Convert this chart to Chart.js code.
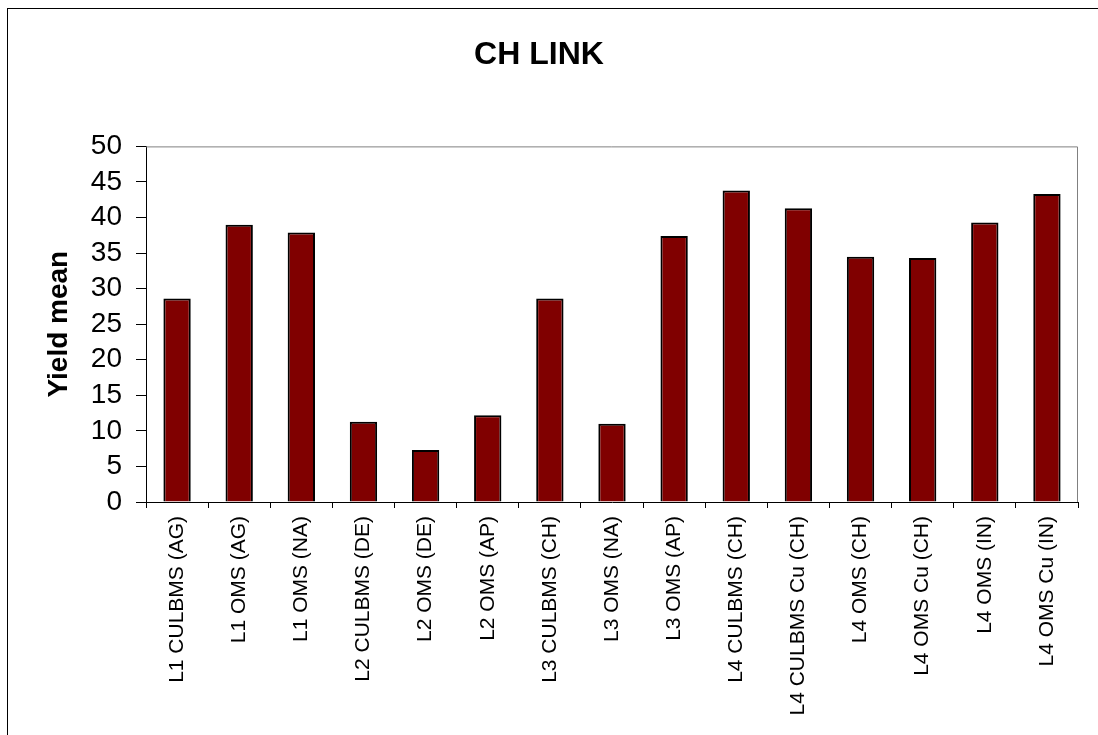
<!DOCTYPE html>
<html>
<head>
<meta charset="utf-8">
<script src="https://cdn.jsdelivr.net/npm/chart.js@4/dist/chart.umd.min.js"></script>
<style>
    body { margin: 0; background: #fff; }
    #wrap { position: relative; width: 1098px; height: 735px; overflow: hidden; }
    #frame { position: absolute; left: 7px; top: 8px; width: 1200px; height: 800px;
             border-left: 1px solid #000; border-top: 1px solid #000; }
    canvas { position: absolute; left: 0; top: 0; }
</style>
</head>
<body>
<div id="wrap">
    <div id="frame"></div>
    <canvas id="chart" width="1098" height="735"></canvas>
</div>
<script>
// data
const categories = [
    "L1 CULBMS (AG)", "L1 OMS (AG)", "L1 OMS (NA)", "L2 CULBMS (DE)", "L2 OMS (DE)",
    "L2 OMS (AP)", "L3 CULBMS (CH)", "L3 OMS (NA)", "L3 OMS (AP)", "L4 CULBMS (CH)",
    "L4 CULBMS Cu (CH)", "L4 OMS (CH)", "L4 OMS Cu (CH)", "L4 OMS (IN)", "L4 OMS Cu (IN)"
];
const yieldMean = [28.6, 39.0, 37.9, 11.3, 7.3, 12.2, 28.6, 11.0, 37.4, 43.8, 41.3, 34.5, 34.3, 39.3, 43.3];
const yTicks = [0, 5, 10, 15, 20, 25, 30, 35, 40, 45, 50];

const FONT = "Arial, 'Liberation Sans', sans-serif";

// gray top/right edge of the plot area
const plotFrame = {
    id: "plotFrame",
    beforeDatasetsDraw(chart) {
        const { ctx, chartArea: a } = chart;
        ctx.save();
        ctx.strokeStyle = "#808080";
        ctx.lineWidth = 1;
        ctx.beginPath();
        ctx.moveTo(a.left, a.top + 0.5);
        ctx.lineTo(a.right - 0.5, a.top + 0.5);
        ctx.lineTo(a.right - 0.5, a.bottom);
        ctx.stroke();
        ctx.restore();
    }
};

new Chart(document.getElementById("chart"), {
    type: "bar",
    data: {
        labels: categories,
        datasets: [{
            label: "Yield mean",
            data: yieldMean,
            backgroundColor: "#800000",
            borderColor: "#000",
            borderWidth: 2,
            barPercentage: 0.44,
            categoryPercentage: 1
        }]
    },
    options: {
        responsive: false,
        animation: false,
        layout: { padding: { left: 0, right: 20, top: 0, bottom: 0 } },
        plugins: {
            legend: { display: false },
            tooltip: { enabled: false },
            title: {
                display: true,
                text: "CH LINK",
                color: "#000",
                font: { family: FONT, size: 32, weight: "bold" },
                padding: { top: 36, bottom: 72 }
            }
        },
        scales: {
            x: {
                grid: { display: true, drawOnChartArea: false, color: "#000", tickLength: 6, offset: true },
                border: { color: "#000", width: 1 },
                ticks: {
                    color: "#000",
                    font: { family: FONT, size: 21 },
                    minRotation: 90,
                    maxRotation: 90,
                    autoSkip: false,
                    padding: 8
                },
                afterFit(scale) { scale.height = 233; }
            },
            y: {
                min: 0,
                max: 50,
                afterBuildTicks(scale) { scale.ticks = yTicks.map(v => ({ value: v })); },
                grid: { display: true, drawOnChartArea: false, color: "#000", tickLength: 10 },
                border: { color: "#000", width: 1 },
                ticks: {
                    color: "#000",
                    font: { family: FONT, size: 28 },
                    padding: 14,
                    autoSkip: false
                },
                title: {
                    display: true,
                    text: "Yield mean",
                    color: "#000",
                    font: { family: FONT, size: 28, weight: "bold" },
                    padding: { top: 42, bottom: 0 }
                },
                afterFit(scale) { scale.width = 146; }
            }
        }
    },
    plugins: [plotFrame]
});
</script>
</body>
</html>
